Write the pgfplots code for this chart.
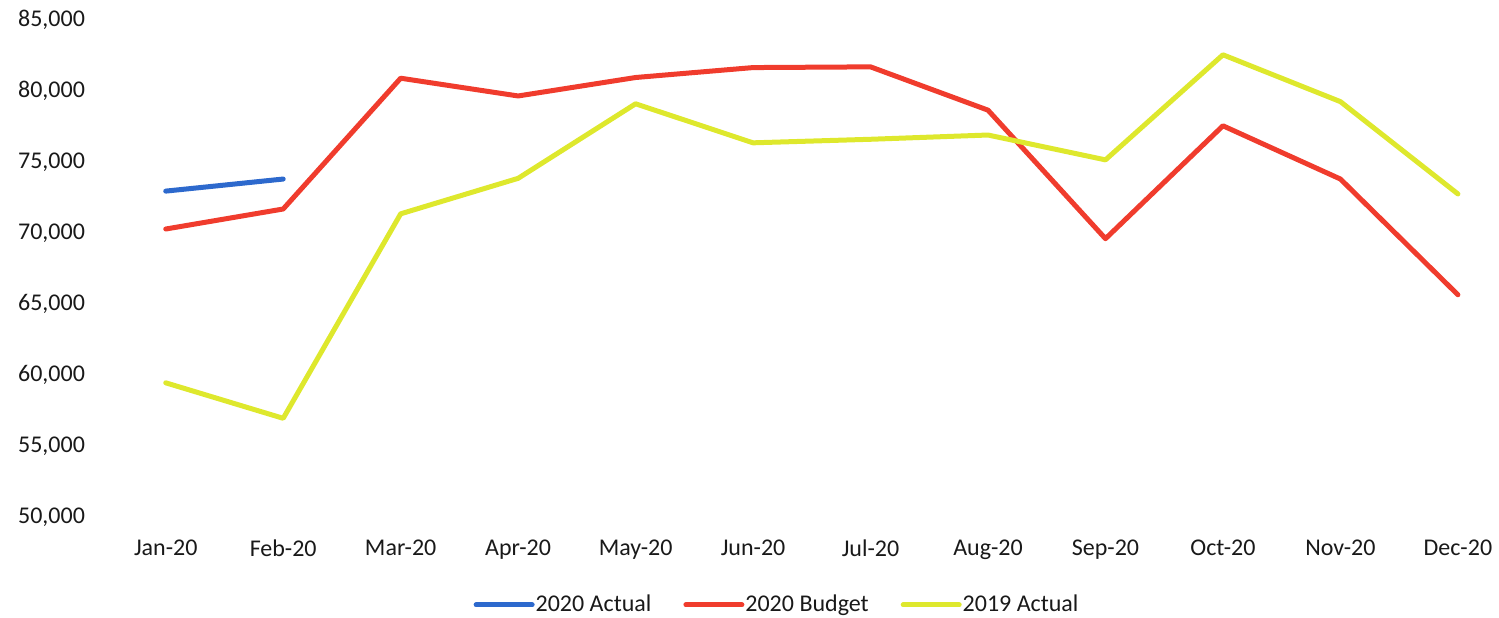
\documentclass[border=0pt]{standalone}
\usepackage{pgfplots}
\pgfplotsset{compat=1.18}
\usepackage{fontspec}
\setmainfont{Carlito}
\definecolor{actualblue}{RGB}{45,105,205}
\definecolor{budgetred}{RGB}{240,60,45}
\definecolor{lastyellow}{RGB}{222,232,45}
\newcommand\lf{\fontsize{12bp}{14.4bp}\selectfont}
\begin{document}
\begin{tikzpicture}
\useasboundingbox (-53.5bp,-50.5bp) rectangle (696bp,258.5bp);
\begin{axis}[
    scale only axis,
    width=696bp, height=248.5bp,
    xmin=-0.5, xmax=11.35,
    ymin=50000, ymax=85000,
    xtick={0,...,11},
    xticklabels={Jan-20,Feb-20,Mar-20,Apr-20,May-20,Jun-20,Jul-20,Aug-20,Sep-20,Oct-20,Nov-20,Dec-20},
    ytick={50000,55000,...,85000},
    scaled y ticks=false,
    /pgf/number format/1000 sep={,},
    /pgf/number format/assume math mode=true,
    axis line style={draw=none},
    major tick length=0pt,
    tick label style={font=\lf, text=black!90},
    yticklabel style={xshift=-7.5bp},
    xticklabel style={yshift=-8bp},
    clip=false,
    legend columns=-1,
    legend style={
        draw=none, fill=none, font=\lf, text=black!90,
        at={(0.481,-0.177)}, anchor=center,
        nodes={inner xsep=0.5bp},
        /tikz/every even column/.append style={column sep=15.5bp},
    },
    legend image code/.code={\draw[#1, line width=2.5bp, line cap=round] (0bp,0bp) -- (28bp,0bp);},
    every axis plot/.append style={line width=2.5bp, line cap=round, line join=round, mark=none},
]
\addplot[actualblue] coordinates {(0,72950) (1,73800)};
\addlegendentry{2020 Actual}
\addplot[budgetred] coordinates {
    (0,70280) (1,71690) (2,80900) (3,79650) (4,80950) (5,81650)
    (6,81700) (7,78650) (8,69600) (9,77550) (10,73800) (11,65650)};
\addlegendentry{2020 Budget}
\addplot[lastyellow] coordinates {
    (0,59450) (1,56950) (2,71350) (3,73850) (4,79100) (5,76350)
    (6,76600) (7,76900) (8,75150) (9,82550) (10,79250) (11,72750)};
\addlegendentry{2019 Actual}
\end{axis}
\end{tikzpicture}
\end{document}
